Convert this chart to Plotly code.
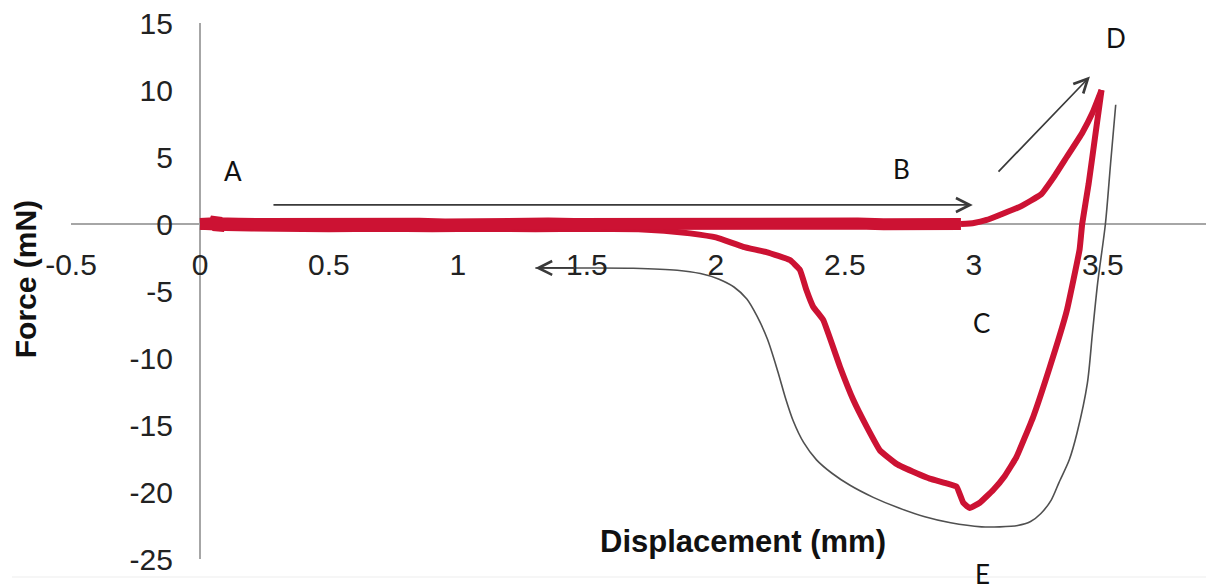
import plotly.graph_objects as go

# ---- data ----
x_ticks = [-0.5, 0, 0.5, 1, 1.5, 2, 2.5, 3, 3.5]
x_tick_text = ["-0.5", "0", "0.5", "1", "1.5", "2", "2.5", "3", "3.5"]
y_ticks = [-25, -20, -15, -10, -5, 0, 5, 10, 15]
y_tick_text = ["-25", "-20", "-15", "-10", "-5", "0", "5", "10", "15"]

# red measured curve: flat (noisy) part of loading
load_flat_x = [0.0, 0.02, 0.04, 0.055, 0.064, 0.071, 0.08, 0.1, 0.15, 0.25, 0.35, 0.45,
               0.55, 0.65, 0.75, 0.85, 0.95, 1.05, 1.15, 1.25, 1.35, 1.45, 1.55, 1.65,
               1.75, 1.85, 1.95, 2.05, 2.15, 2.25, 2.35, 2.45, 2.55, 2.65, 2.75, 2.85, 2.95]
load_flat_y = [0.0, 0.05, -0.05, 0.05, 0.45, -0.45, 0.05, 0.0, 0.02, 0.0, 0.03, -0.02,
               0.0, 0.04, -0.02, 0.02, -0.03, 0.03, 0.0, -0.02, 0.03, 0.0, 0.02, -0.02,
               0.03, 0.0, 0.02, 0.0, 0.03, -0.02, 0.02, 0.0, 0.03, -0.02, 0.0, 0.02, 0.0]
# rising part of loading up to peak D
rise_x = [2.95, 3.0, 3.05, 3.10, 3.18, 3.26, 3.31, 3.36, 3.42, 3.46, 3.495]
rise_y = [0.0, 0.08, 0.3, 0.67, 1.3, 2.2, 3.5, 5.0, 6.8, 8.3, 10.0]
# unloading / retraction
unload_x = [3.495, 3.47, 3.445, 3.42, 3.41, 3.36, 3.295, 3.23, 3.165, 3.12, 3.075, 3.023,
            2.984, 2.959, 2.933, 2.894, 2.829, 2.778, 2.70, 2.636, 2.584, 2.532,
            2.481, 2.416, 2.377, 2.351, 2.326, 2.287, 2.196, 2.106, 2.0, 1.9, 1.8, 1.7, 1.5, 1.3,
            1.1, 0.9, 0.7, 0.5, 0.3, 0.1, 0.0]
unload_y = [10.0, 6.5, 3.0, 0.0, -1.9, -6.5, -10.65, -14.4, -17.4, -18.8, -19.85, -20.8,
            -21.2, -20.8, -19.6, -19.35, -19.0, -18.6, -17.9, -16.9, -15.1, -13.1,
            -10.65, -7.16, -6.17, -4.93, -3.43, -2.69, -2.1, -1.7, -1.0, -0.7, -0.5, -0.4, -0.35, -0.4,
            -0.35, -0.4, -0.35, -0.4, -0.35, -0.3, -0.2]

# thin grey schematic curve (B -> D -> E -> back)
grey_x = [1.30, 1.5, 1.68, 1.85, 1.94, 2.01, 2.07, 2.12, 2.16, 2.20, 2.24, 2.27, 2.30,
          2.34, 2.39, 2.45, 2.52, 2.61, 2.71, 2.81, 2.91, 3.03, 3.10, 3.17, 3.22, 3.26,
          3.30, 3.33, 3.37, 3.40, 3.44, 3.46, 3.48, 3.51, 3.53, 3.55]
grey_y = [-3.28, -3.28, -3.3, -3.45, -3.7, -4.1, -4.7, -5.6, -6.9, -8.6, -11.0, -13.0, -14.7,
          -16.3, -17.6, -18.6, -19.5, -20.4, -21.2, -21.85, -22.3, -22.6, -22.6, -22.5, -22.2, -21.6,
          -20.6, -19.3, -17.6, -15.6, -11.9, -8.1, -4.4, 0.0, 4.5, 8.9]

# point labels (A-D in data units, E lies below the axis range -> paper units)
label_text = ["A", "B", "C", "D"]
label_x = [0.128, 2.72, 3.03, 3.55]
label_y = [3.96, 4.1, -7.4, 13.9]
label_e_paper = (0.8035, -0.028)

# arrows: (tail x, tail y, head x, head y)
arrows = [
    (0.279, 1.42, 2.996, 1.42),
    (3.09, 3.8, 3.45, 11.0),
    (1.46, -3.28, 1.30, -3.28),
]

RED = "#CC1233"
GREY = "#505050"
FONT = "Liberation Sans, Arial, sans-serif"
LFONT = dict(family="Lato, Open Sans, sans-serif", size=26, color="#111")

fig = go.Figure()
fig.add_trace(go.Scatter(x=grey_x, y=grey_y, mode="lines",
                         line=dict(color=GREY, width=1.6, shape="spline", smoothing=0.8),
                         hoverinfo="skip"))
fig.add_trace(go.Scatter(x=unload_x, y=unload_y, mode="lines",
                         line=dict(color=RED, width=6, shape="spline", smoothing=0.3),
                         hoverinfo="skip"))
fig.add_trace(go.Scatter(x=load_flat_x, y=load_flat_y, mode="lines",
                         line=dict(color=RED, width=12), hoverinfo="skip"))
fig.add_trace(go.Scatter(x=rise_x, y=rise_y, mode="lines",
                         line=dict(color=RED, width=6, shape="spline", smoothing=0.3),
                         hoverinfo="skip"))

annotations = []
for t, lx, ly in zip(label_text, label_x, label_y):
    annotations.append(dict(x=lx, y=ly, xref="x", yref="y", text=t, showarrow=False,
                            xanchor="center", yanchor="middle", font=LFONT))
annotations.append(dict(x=label_e_paper[0], y=label_e_paper[1], xref="paper", yref="paper",
                        text="E", showarrow=False, xanchor="center", yanchor="middle",
                        borderpad=0, font=LFONT))
for x0, y0, x1, y1 in arrows:
    annotations.append(dict(x=x1, y=y1, ax=x0, ay=y0, xref="x", yref="y", axref="x", ayref="y",
                            text="", showarrow=True, arrowhead=5, arrowsize=1.6,
                            arrowwidth=1.7, arrowcolor="#3a3a3a", standoff=0, startstandoff=0))
annotations.append(dict(x=2.105, y=-23.7, xref="x", yref="y", text="<b>Displacement (mm)</b>",
                        showarrow=False, xanchor="center", yanchor="middle",
                        font=dict(family=FONT, size=31, color="#111")))
annotations.append(dict(x=-0.0405, y=0.522, xref="paper", yref="paper", text="<b>Force (mN)</b>",
                        textangle=-90, showarrow=False, xanchor="center", yanchor="middle",
                        borderpad=0, font=dict(family=FONT, size=30, color="#111")))

# page body has an 8px default margin, so plot margins are reduced by 8px on left/top
fig.update_layout(
    width=1217, height=588,
    margin=dict(l=63, r=19, t=15, b=37, autoexpand=False),
    plot_bgcolor="white", paper_bgcolor="white",
    showlegend=False,
    font=dict(family=FONT, size=30, color="#222"),
    annotations=annotations,
    xaxis=dict(range=[-0.5, 3.9], tickvals=x_ticks, ticktext=x_tick_text,
               showgrid=False, showline=False, zeroline=True, zerolinecolor="#A6A6A6",
               zerolinewidth=2, anchor="free", position=0.625, ticks="", automargin=False,
               ticklabelstandoff=20, ticklabeloverflow="allow",
               tickfont=dict(size=30, color="#222")),
    yaxis=dict(range=[-25, 15], tickvals=y_ticks, ticktext=y_tick_text,
               showgrid=False, showline=False, zeroline=True, zerolinecolor="#A6A6A6",
               zerolinewidth=2, anchor="free", position=0.5 / 4.4, ticks="", automargin=False,
               ticklabelstandoff=27, ticklabeloverflow="allow",
               tickfont=dict(size=30, color="#222")),
    shapes=[dict(type="line", xref="paper", yref="paper", x0=-0.052, x1=1.0,
                 y0=-0.0336, y1=-0.0336, line=dict(color="#EDEDED", width=1), layer="below")],
)

fig.write_html("out.html")
